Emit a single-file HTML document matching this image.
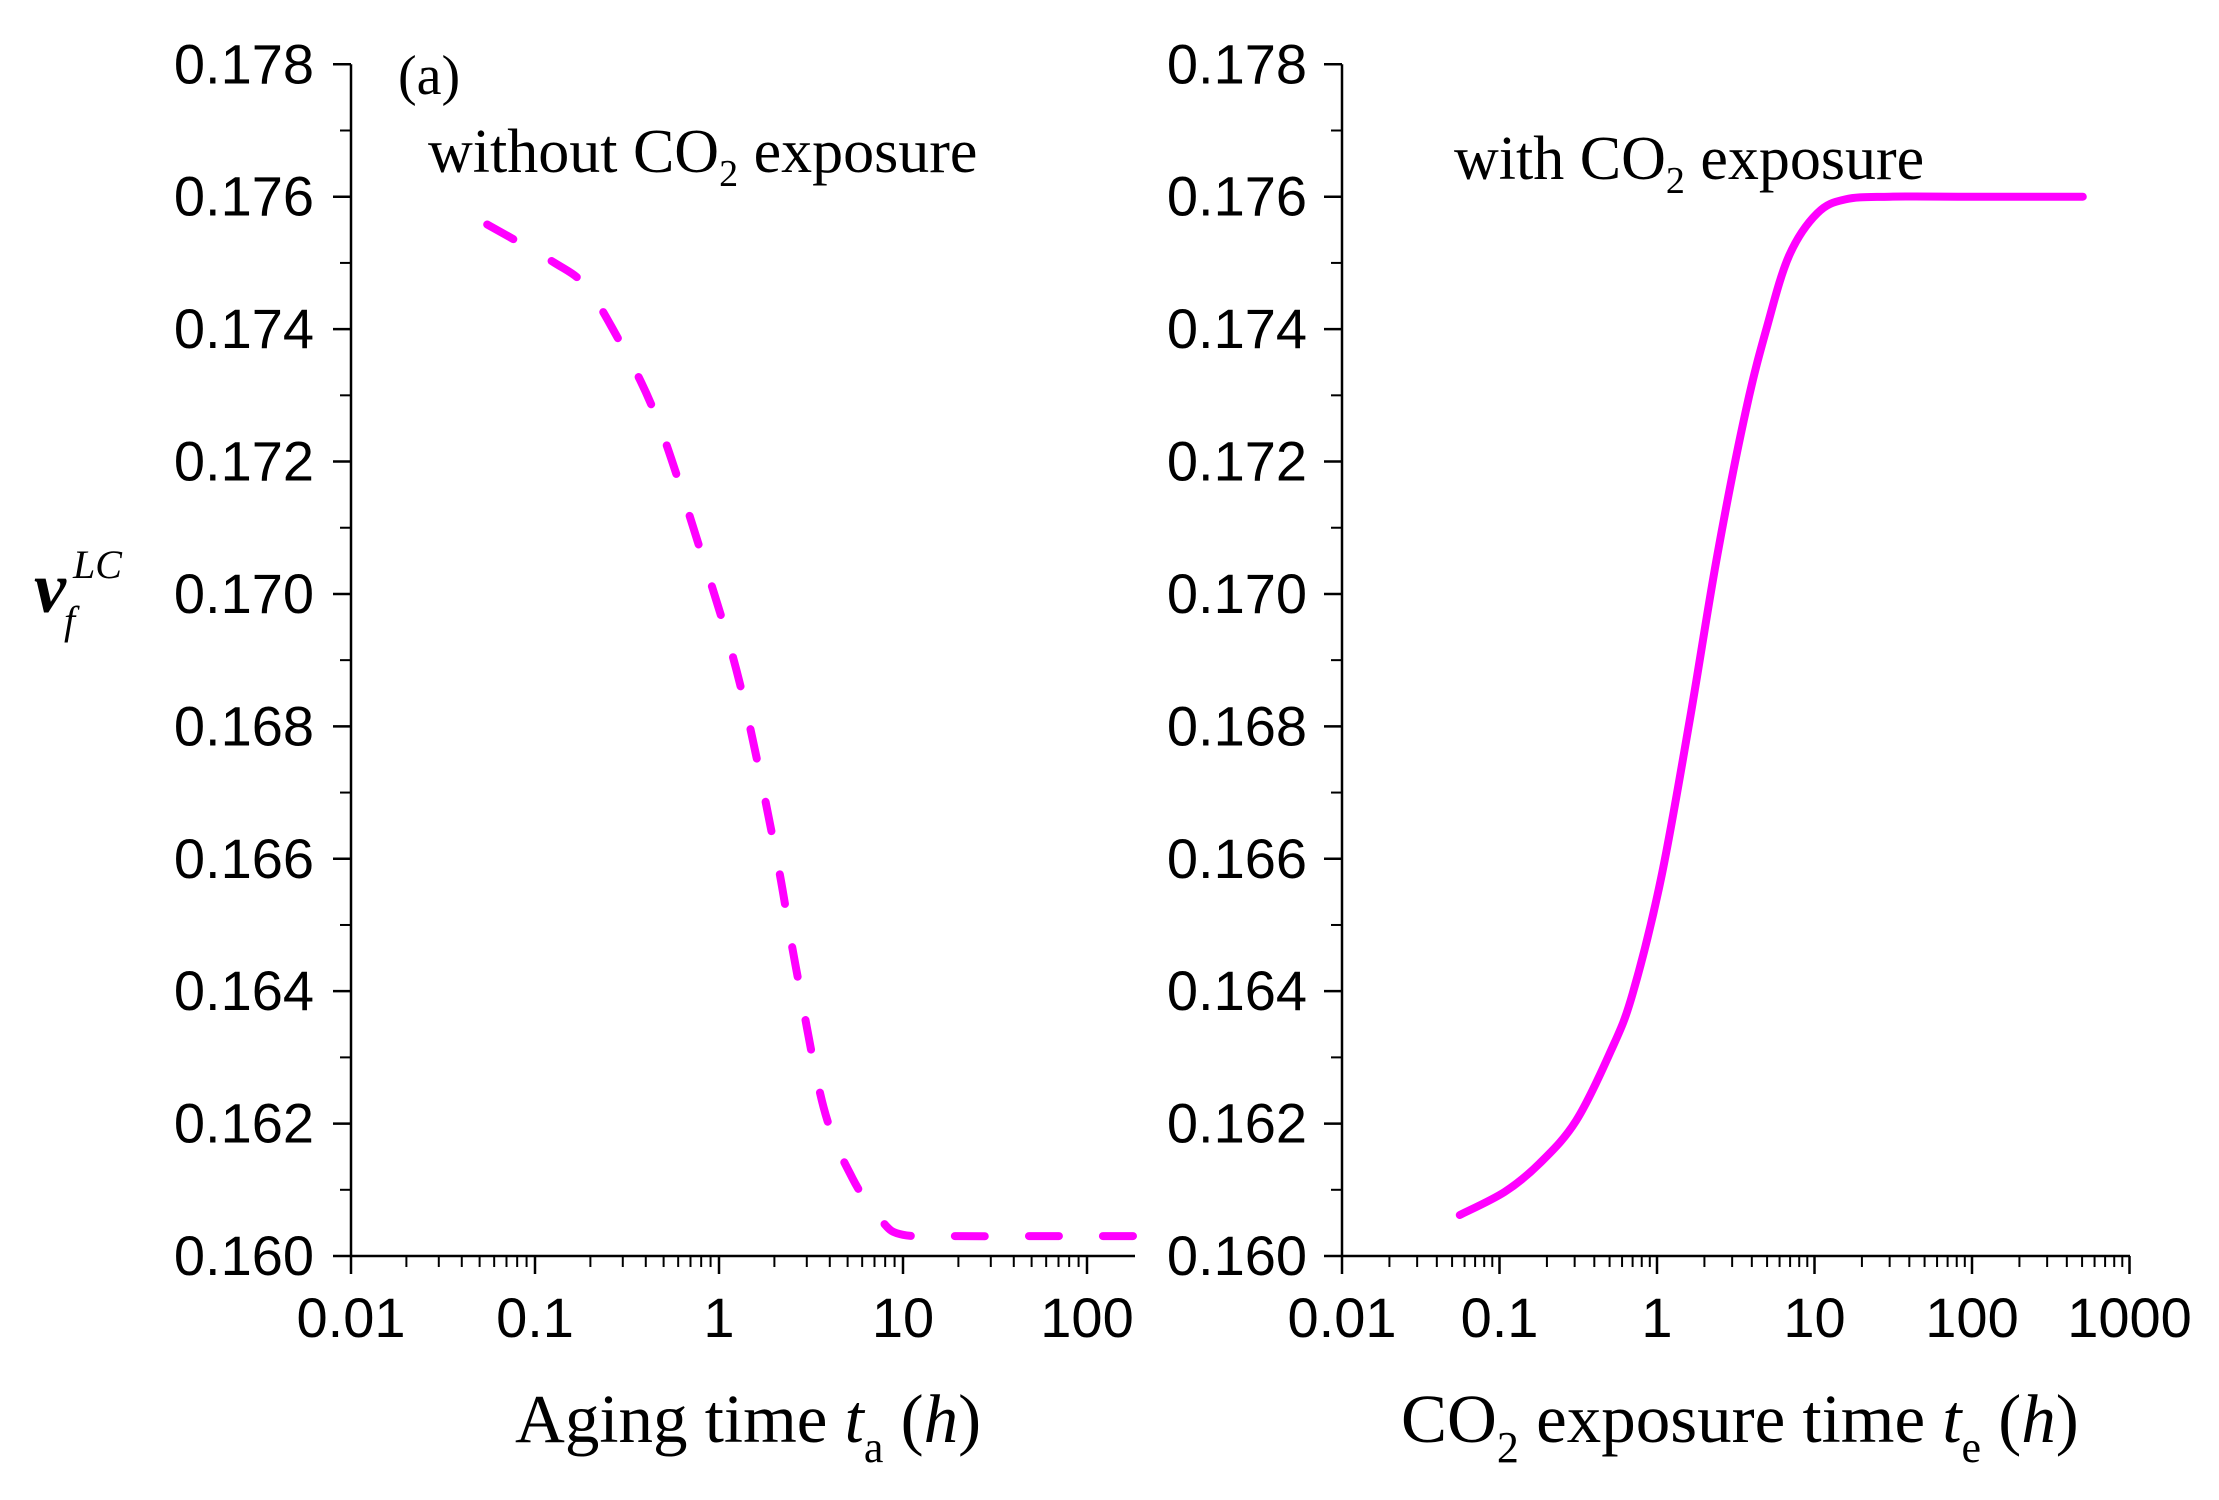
<!DOCTYPE html>
<html><head><meta charset="utf-8"><style>
html,body{margin:0;padding:0;background:#fff;}
svg{display:block;}
.tk{font-family:"Liberation Sans",sans-serif;font-size:56px;fill:#000;}
.ser{font-family:"Liberation Serif",serif;fill:#000;}
</style></head><body>
<svg id="chart" width="2219" height="1500" viewBox="0 0 2219 1500" xmlns="http://www.w3.org/2000/svg">
<g id="left"></g>
<g id="right"></g>
<text class="ser" x="398" y="94" font-size="56">(a)</text>
<text class="ser" x="428" y="172" font-size="62">without CO<tspan font-size="38" dy="14">2</tspan><tspan dy="-14"> exposure</tspan></text>
<text class="ser" x="1454" y="179" font-size="62">with CO<tspan font-size="38" dy="14">2</tspan><tspan dy="-14"> exposure</tspan></text>
<text class="ser" x="34" y="612" font-size="72" font-style="italic" font-weight="bold">v</text>
<text class="ser" x="73" y="578" font-size="40" font-style="italic">LC</text>
<text class="ser" x="64" y="634" font-size="40" font-style="italic">f</text>
<text class="ser" x="515" y="1442" font-size="69">Aging time <tspan font-style="italic">t</tspan><tspan font-size="44" dy="20">a</tspan><tspan dy="-20"> (</tspan><tspan font-style="italic">h</tspan>)</text>
<text class="ser" x="1401" y="1442" font-size="69">CO<tspan font-size="44" dy="20">2</tspan><tspan dy="-20"> exposure time </tspan><tspan font-style="italic">t</tspan><tspan font-size="44" dy="20">e</tspan><tspan dy="-20"> (</tspan><tspan font-style="italic">h</tspan>)</text>
</svg>
<script>
// data
const yTicks = [0.160,0.162,0.164,0.166,0.168,0.170,0.172,0.174,0.176,0.178];
const yTickLabels = ["0.160","0.162","0.164","0.166","0.168","0.170","0.172","0.174","0.176","0.178"];
const leftXTicks = [0.01,0.1,1,10,100];
const leftXTickLabels = ["0.01","0.1","1","10","100"];
const rightXTicks = [0.01,0.1,1,10,100,1000];
const rightXTickLabels = ["0.01","0.1","1","10","100","1000"];
const agingTime = [0.055,0.128,0.184,0.26,0.445,0.76,1.29,2.03,2.6,3.7,5.3,7.6,10,20,50,100,190];
const agingValue = [0.17558,0.1750,0.17468,0.17404,0.17275,0.17082,0.16868,0.1661,0.1644,0.16225,0.16118,0.16054,0.16032,0.1603,0.1603,0.1603,0.1603];
const exposureTime = [0.056,0.108,0.18,0.306,0.51,0.70,1.06,1.6,2.42,3.65,5.0,6.9,10.4,15.7,30,100,505];
const exposureValue = [0.16062,0.16097,0.1614,0.16204,0.1631,0.16396,0.1657,0.16804,0.1706,0.17275,0.17404,0.17511,0.17575,0.17596,0.176,0.176,0.176];

const NS="http://www.w3.org/2000/svg";
const Y0=1256, YT=64.3, VMIN=0.160, VMAX=0.178;
function yS(v){return Y0-(v-VMIN)/(VMAX-VMIN)*(Y0-YT);}
function mk(tag,attrs,parent){const e=document.createElementNS(NS,tag);for(const k in attrs)e.setAttribute(k,attrs[k]);parent.appendChild(e);return e;}

function smoothPath(pts){
  let d='M'+pts[0][0].toFixed(1)+','+pts[0][1].toFixed(1);
  for(let i=0;i<pts.length-1;i++){
    const p0=pts[Math.max(0,i-1)],p1=pts[i],p2=pts[i+1],p3=pts[Math.min(pts.length-1,i+2)];
    const c1=[p1[0]+(p2[0]-p0[0])/6,p1[1]+(p2[1]-p0[1])/6];
    const c2=[p2[0]-(p3[0]-p1[0])/6,p2[1]-(p3[1]-p1[1])/6];
    d+='C'+c1[0].toFixed(1)+','+c1[1].toFixed(1)+' '+c2[0].toFixed(1)+','+c2[1].toFixed(1)+' '+p2[0].toFixed(1)+','+p2[1].toFixed(1);
  }
  return d;
}

function panel(g,x0,dec,xEnd,xmaxLog,xTicks,xLabels,labRight,tArr,vArr,dashed){
  const xS=t=>x0+(Math.log10(t)+2)*dec;
  let e=mk('line',{x1:x0,y1:YT,x2:x0,y2:Y0,stroke:'#000','stroke-width':2.5},g);
  
  
  e=mk('line',{x1:x0,y1:Y0,x2:xEnd,y2:Y0,stroke:'#000','stroke-width':2.5},g);
  
  
  for(let i=0;i<yTicks.length;i++){
    const y=yS(yTicks[i]);
    e=mk('line',{x1:x0-18,y1:y,x2:x0,y2:y,stroke:'#000','stroke-width':2.5},g);
    
    
    if(i<yTicks.length-1){
      const ym=yS((yTicks[i]+yTicks[i+1])/2);
      e=mk('line',{x1:x0-11,y1:ym,x2:x0,y2:ym,stroke:'#000','stroke-width':2},g);
      
      
    }
    const t=mk('text',{x:labRight,y:y+19,'text-anchor':'end',class:'tk'},g);
    t.textContent=yTickLabels[i];
    
    
  }
  for(let i=0;i<xTicks.length;i++){
    const x=xS(xTicks[i]);
    e=mk('line',{x1:x,y1:Y0,x2:x,y2:Y0+18,stroke:'#000','stroke-width':2.5},g);
    
    
    const t=mk('text',{x:x,y:1337,'text-anchor':'middle',class:'tk'},g);
    t.textContent=xLabels[i];
    
    
    for(let m=2;m<=9;m++){
      const v=xTicks[i]*m;
      if(Math.log10(v)>xmaxLog)break;
      const xm=xS(v);
      e=mk('line',{x1:xm,y1:Y0,x2:xm,y2:Y0+11,stroke:'#000','stroke-width':2},g);
      
      
    }
  }
  const pts=tArr.map((t,i)=>[xS(t),yS(vArr[i])]);
  const p=mk('path',{d:smoothPath(pts),fill:'none',stroke:'#ff00ff','stroke-width':8,'stroke-linecap':'round','stroke-linejoin':'round'},g);
  if(dashed)p.setAttribute('stroke-dasharray','30 44');
  
  
}
panel(document.getElementById('left'),351,184,1135,2.27,leftXTicks,leftXTickLabels,314,agingTime,agingValue,true);
panel(document.getElementById('right'),1342,157.5,2130,3.0,rightXTicks,rightXTickLabels,1307,exposureTime,exposureValue,false);
</script>
</body></html>
